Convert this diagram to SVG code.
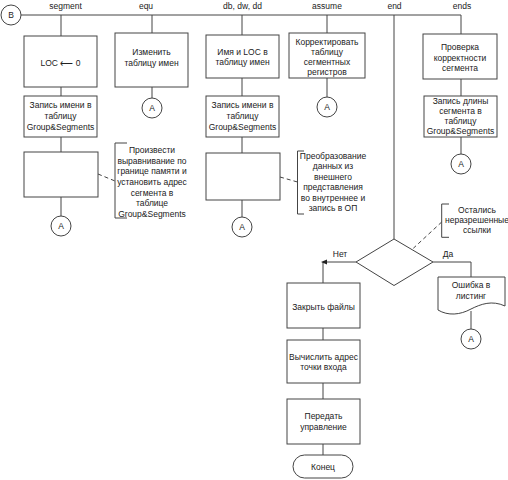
<svg xmlns="http://www.w3.org/2000/svg" width="508" height="480" viewBox="0 0 508 480">
<style>
  .b{fill:#fff;stroke:#444;stroke-width:1}
  .l{fill:none;stroke:#444;stroke-width:1}
  .d{fill:none;stroke:#444;stroke-width:1;stroke-dasharray:4,3}
  text{font-family:"Liberation Sans",Arial,sans-serif;font-size:8.5px;fill:#222;text-anchor:middle}
</style>
<rect width="508" height="480" fill="#fff"/>
<g id="connectors">
  <path class="l" d="M21,15 H461"/>
  <path class="l" d="M61,15 V36 M61,87 V96 M61,137 V152 M61,197 V216"/>
  <path class="l" d="M152,15 V33 M152,87 V98"/>
  <path class="l" d="M242,15 V35 M242,78 V96 M242,137 V153 M242,200 V217"/>
  <path class="l" d="M327,15 V33 M327,78 V97"/>
  <path class="l" d="M394,15 V239"/>
  <path class="l" d="M461,15 V34 M461,79 V96 M461,137 V154"/>
  <path class="l" d="M356,262 H323 V283"/>
  <polygon points="321,262 327,259.5 327,264.5" fill="#222"/>
  <path class="l" d="M433,262 H471 V277 M471,311 V329"/>
  <path class="l" d="M323,328 V340 M323,383 V399 M323,444 V455"/>
  <path class="d" d="M98,174 L115,181"/>
  <path class="d" d="M280,177 L297.5,182"/>
  <path class="d" d="M441.7,222 L413.3,248.3"/>
</g>
<g id="labels">
  <text x="65.5" y="9">segment</text>
  <text x="146" y="9">equ</text>
  <text x="242.5" y="9">db, dw, dd</text>
  <text x="327" y="9">assume</text>
  <text x="394.5" y="9">end</text>
  <text x="462" y="9">ends</text>
  <text x="340" y="257">Нет</text>
  <text x="448" y="257">Да</text>
</g>
<g id="nodeB"><circle class="b" cx="11" cy="15" r="10"/><text x="11" y="18">B</text></g>
<g id="loc"><rect class="b" x="24" y="36" width="73" height="51"/><text x="60.5" y="66">LOC ⟵ 0</text></g>
<g id="seg-write"><rect class="b" x="24" y="96" width="73" height="41"/><text x="60.5" y="108">Запись имени в</text><text x="60.5" y="119">таблицу</text><text x="60.5" y="130">Group&amp;Segments</text></g>
<g id="seg-align"><rect class="b" x="24" y="152" width="74" height="45"/></g>
<g id="seg-A"><circle class="b" cx="61" cy="226" r="10"/><text x="61" y="229">A</text></g>
<g id="seg-note"><path class="l" d="M127,143 H115 V218 H127"/>
  <text x="152" y="153">Произвести</text><text x="152" y="163.7">выравнивание по</text><text x="152" y="174.3">границе памяти и</text><text x="152" y="185">установить адрес</text><text x="152" y="195.7">сегмента в</text><text x="152" y="206.3">таблице</text><text x="152" y="217">Group&amp;Segments</text></g>
<g id="equ-box"><rect class="b" x="115" y="33" width="73" height="54"/><text x="151.5" y="55">Изменить</text><text x="151.5" y="65.5">таблицу имен</text></g>
<g id="equ-A"><circle class="b" cx="152" cy="108" r="10"/><text x="152" y="111">A</text></g>
<g id="db-box"><rect class="b" x="206" y="35" width="73" height="43"/><text x="242.5" y="54.7">Имя и LOC в</text><text x="242.5" y="65.3">таблицу имен</text></g>
<g id="db-write"><rect class="b" x="206" y="96" width="73" height="41"/><text x="242.5" y="108">Запись имени в</text><text x="242.5" y="119">таблицу</text><text x="242.5" y="130">Group&amp;Segments</text></g>
<g id="db-conv"><rect class="b" x="206" y="153" width="74" height="47"/></g>
<g id="db-A"><circle class="b" cx="242" cy="227" r="10"/><text x="242" y="230">A</text></g>
<g id="db-note"><path class="l" d="M304,151 H297.5 V214 H304"/>
  <text x="333" y="159">Преобразование</text><text x="333" y="169.4">данных из</text><text x="333" y="179.8">внешнего</text><text x="333" y="190.2">представления</text><text x="333" y="200.6">во внутреннее и</text><text x="333" y="211">запись в ОП</text></g>
<g id="assume-box"><rect class="b" x="289" y="33" width="76" height="45"/><text x="327" y="44.5">Корректировать</text><text x="327" y="54.5">таблицу</text><text x="327" y="64.5">сегментных</text><text x="327" y="74.5">регистров</text></g>
<g id="assume-A"><circle class="b" cx="327" cy="107" r="10"/><text x="327" y="110">A</text></g>
<g id="ends-box"><rect class="b" x="423" y="34" width="74" height="45"/><text x="460" y="50">Проверка</text><text x="460" y="60.5">корректности</text><text x="460" y="71">сегмента</text></g>
<g id="ends-write"><rect class="b" x="424" y="96" width="73" height="41"/><text x="460.5" y="103.7">Запись длины</text><text x="460.5" y="113.7">сегмента в</text><text x="460.5" y="123.7">таблицу</text><text x="460.5" y="134">Group&amp;Segments</text></g>
<g id="ends-A"><circle class="b" cx="461" cy="164" r="10"/><text x="461" y="167">A</text></g>
<g id="decision"><polygon class="b" points="394,239 433,262 394,285.5 356,262"/></g>
<g id="end-note"><path class="l" d="M449,204 H441.7 V237.3 H449"/><text x="477" y="213">Остались</text><text x="477" y="223">неразрешенные</text><text x="477" y="233">ссылки</text></g>
<g id="error-doc"><path class="b" d="M438,277 H505 V306 C492,300 481,304 471,309 C460,315 448,316 438,310 Z"/><text x="471" y="288">Ошибка в</text><text x="471" y="298.5">листинг</text></g>
<g id="err-A"><circle class="b" cx="471" cy="339" r="10"/><text x="471" y="342">A</text></g>
<g id="close"><rect class="b" x="287" y="283" width="73" height="45"/><text x="323.5" y="309.5">Закрыть файлы</text></g>
<g id="entry"><rect class="b" x="287" y="340" width="73" height="43"/><text x="323.5" y="359.7">Вычислить адрес</text><text x="323.5" y="369.9">точки входа</text></g>
<g id="transfer"><rect class="b" x="287" y="399" width="73" height="45"/><text x="323.5" y="419">Передать</text><text x="323.5" y="429.7">управление</text></g>
<g id="finish"><rect class="b" x="293" y="455" width="60" height="23" rx="11.5"/><text x="323" y="469.5">Конец</text></g>
</svg>
